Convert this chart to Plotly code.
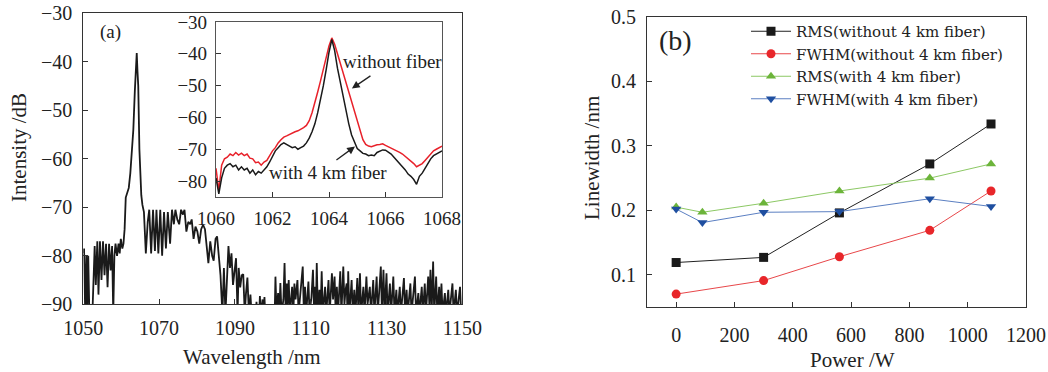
import plotly.graph_objects as go

# ---------------- Panel (a): main spectrum ----------------
WL_MAIN = [1050.0, 1050.2, 1050.5, 1050.8, 1051.0, 1051.3, 1051.6, 1052.0, 1052.4, 1052.7,
           1053.0, 1053.3, 1053.7, 1054.0, 1054.4, 1054.8, 1055.2, 1055.6, 1056.0, 1056.4,
           1056.8, 1057.2, 1057.6, 1057.9, 1058.2, 1058.5, 1058.9, 1059.3, 1059.6, 1059.9,
           1060.3, 1060.6, 1060.9, 1061.2, 1061.6, 1062.0, 1062.4, 1062.8, 1063.2, 1063.6,
           1063.9, 1064.1, 1064.3, 1064.5, 1064.8, 1065.0, 1065.3, 1065.6, 1066.0, 1066.5,
           1067.0, 1067.4, 1067.9, 1068.4, 1068.9, 1069.3, 1069.8, 1070.3, 1070.8, 1071.3,
           1071.8, 1072.3, 1072.9, 1073.4, 1073.9, 1074.3, 1074.8, 1075.3, 1075.8, 1076.3,
           1076.7, 1077.2, 1077.7, 1078.2, 1078.6, 1079.1, 1079.6, 1080.1, 1080.6, 1081.1,
           1081.6, 1082.1, 1082.6, 1083.0, 1083.5, 1084.0, 1084.4, 1084.9, 1085.3, 1085.8,
           1086.2, 1086.7, 1087.1, 1087.5, 1087.9, 1088.3, 1088.7, 1089.1, 1089.5, 1089.9,
           1090.3, 1090.7, 1091.0, 1091.4, 1091.8, 1092.2, 1092.6, 1092.9, 1093.3, 1093.7,
           1094.1, 1094.4, 1095.5, 1095.7, 1095.9, 1096.4, 1096.6, 1096.8, 1097.3, 1097.5,
           1097.8, 1098.0, 1100.5,
           1100.7, 1101.0, 1101.4, 1101.7, 1102.0, 1102.3, 1102.8, 1103.1, 1103.4, 1103.7,
           1103.9, 1104.2, 1104.5, 1105.1, 1105.4, 1105.7, 1106.0, 1106.5, 1106.8, 1107.3,
           1107.9, 1108.2, 1108.5, 1108.8, 1109.4, 1109.7, 1110.2, 1110.6, 1110.9, 1111.2,
           1111.4, 1111.6, 1111.9, 1112.3, 1112.6, 1112.9, 1113.2, 1113.8, 1114.1, 1114.7,
           1115.0, 1115.6, 1115.9, 1116.3, 1116.6, 1116.9, 1117.2, 1117.8, 1118.1, 1118.6,
           1118.9, 1119.2, 1119.5, 1119.7, 1119.9, 1120.2, 1120.8, 1121.1, 1121.5, 1121.8,
           1122.3, 1122.6, 1123.0, 1123.3, 1123.9, 1124.2, 1124.7, 1125.0, 1125.6, 1125.9,
           1126.5, 1126.8, 1127.4, 1127.7, 1128.1, 1128.5, 1128.8, 1129.2, 1129.5, 1130.0,
           1130.3, 1130.9, 1131.2, 1131.8, 1132.1, 1132.6, 1132.9, 1133.5, 1133.8, 1134.6,
           1134.9, 1135.3, 1135.6, 1136.3, 1136.6, 1137.5, 1137.8, 1138.4, 1138.7, 1139.3,
           1139.6, 1140.1, 1140.4, 1141.0, 1141.3, 1141.6, 1141.9, 1142.3, 1142.6, 1143.1,
           1143.4, 1143.9, 1144.2, 1144.5, 1144.8, 1145.4, 1145.7, 1146.3, 1146.6, 1147.4,
           1147.7, 1148.3, 1148.6, 1149.4, 1149.7, 1150.0]
DB_MAIN = [-79.5, -78.5, -92, -80, -92, -80, -92, -90, -92, -84,
           -78, -86, -77, -88, -77, -85, -77, -84, -77.5, -86.5,
           -77.5, -83, -78, -92, -80, -77.5, -80, -77.5, -79.5, -76.5,
           -78.5, -77.5, -74.5, -68, -67, -66, -63, -58, -54, -46,
           -40, -38.2, -42, -45, -58, -64, -67.5, -69.5, -71, -79.5,
           -73, -70.5, -79.5, -70.5, -79, -70.5, -79.5, -70.5, -80, -71,
           -78.5, -71, -77.5, -70.5, -73.5, -70.5, -72.5, -73.5, -70.5, -71.5,
           -70.5, -75, -73, -73.5, -72.5, -76.5, -74, -75, -77.5, -74.5,
           -73.6, -74.5, -78, -81.5, -77, -80, -81, -76.5, -76, -80.5,
           -84, -92, -82.5, -92, -83, -78, -82.5, -79.5, -86, -83,
           -80.5, -92, -82.5, -86.5, -84, -83.8, -92, -88, -84.5, -92,
           -88, -92, -92, -89.5, -92, -92, -88.3, -92, -89, -92,
           -88.5, -92, -92,
           -84.3, -92, -87.7, -92, -85.6, -92, -89, -81.5, -92, -85.7,
           -90, -85, -92, -86.4, -92, -85.7, -89, -85, -92, -88,
           -82.2, -92, -86.4, -92, -85.3, -92, -88.5, -82.9, -92, -86.4,
           -90, -81.5, -92, -87, -92, -83.2, -92, -86.4, -92, -85,
           -92, -83.6, -89, -84.3, -92, -86.4, -92, -83.2, -92, -82.2,
           -90, -87, -85.7, -92, -83.2, -92, -85, -92, -87, -92,
           -84.6, -92, -83.6, -92, -86.4, -92, -84.3, -90, -86.4, -92,
           -85, -92, -84.3, -92, -88, -82.2, -92, -82.9, -92, -83.6,
           -92, -85.7, -92, -84.3, -92, -87, -92, -86.4, -92, -84.6,
           -92, -87, -92, -85.7, -92, -84.3, -92, -87.7, -92, -86.4,
           -92, -85.7, -92, -84.3, -90, -82.9, -92, -81.2, -92, -84.3,
           -92, -86.4, -92, -85.7, -92, -87.7, -92, -87, -92, -85.7,
           -92, -87, -92, -86.4, -92, -90]

# ---------------- Panel (a): inset ----------------
WL_INSET = [1060.0, 1060.1, 1060.2, 1060.3, 1060.4, 1060.5, 1060.6, 1060.7, 1060.8, 1060.9,
            1061.0, 1061.1, 1061.2, 1061.3, 1061.4, 1061.5, 1061.6, 1061.7, 1061.8, 1061.9,
            1062.0, 1062.1, 1062.2, 1062.3, 1062.4, 1062.5, 1062.6, 1062.7, 1062.8, 1062.9,
            1063.0, 1063.1, 1063.2, 1063.3, 1063.4, 1063.5, 1063.6, 1063.7, 1063.8, 1063.9,
            1064.0, 1064.1, 1064.2, 1064.3, 1064.4, 1064.5, 1064.6, 1064.7, 1064.8, 1064.9,
            1065.0, 1065.1, 1065.2, 1065.3, 1065.4, 1065.5, 1065.6, 1065.7, 1065.8, 1065.9,
            1066.0, 1066.1, 1066.2, 1066.3, 1066.4, 1066.5, 1066.6, 1066.7, 1066.8, 1066.9,
            1067.0, 1067.1, 1067.2, 1067.3, 1067.4, 1067.5, 1067.6, 1067.7, 1067.8, 1067.9,
            1068.0]
DB_WITH_FIBER = [-79, -84, -79, -76, -75, -74.5, -75.5, -75, -76.5, -75.5,
                 -76.5, -76, -77.5, -76.5, -78, -77, -77.5, -76.5, -75.5, -74,
                 -72, -70.5, -69.5, -68.5, -68, -68.5, -68.8, -69.5, -69.2, -70,
                 -69.5, -69, -68, -66.5, -64.5, -62, -58.5, -54.5, -50, -45,
                 -39.5, -35.5, -39, -44.5, -49, -53.5, -58, -62, -65.5, -68,
                 -69.8, -70.5, -71.3, -71.5, -72, -71.8, -72, -71, -70.5, -70.2,
                 -70.3, -70.8, -71.5, -72.5, -73.5, -74.3, -75.5, -76.5, -77.8, -78.5,
                 -79.5, -81, -78.5, -77.5, -76, -74.5, -73, -72, -71.5, -71,
                 -70.5]
DB_WITHOUT_FIBER = [-76, -83, -75, -73, -72.5, -71.5, -72, -71, -71.8, -71.2,
                    -72, -71.5, -72.8, -73, -74.2, -74, -75, -74, -73.5, -72,
                    -70.5, -69.5, -68, -67, -66.2, -65.8, -65.3, -65, -64.5, -64.2,
                    -63.8, -63.2, -62.5, -61, -58.5, -55.5, -52, -48.5, -45, -41,
                    -37.5, -35, -37, -40, -43, -46, -49, -52, -55, -58.5,
                    -61.5, -64.5, -67, -68.5, -69, -69.2, -68.8, -68.6, -68.5, -68.3,
                    -68.8, -69.2, -69.6, -70.2, -70.6, -71, -71.5, -72.2, -73, -73.8,
                    -74.5, -75.5, -75, -74.5, -73.5, -72.5, -71.5, -70.5, -70, -69.5,
                    -69]

# ---------------- Panel (b) ----------------
POWER_A = [0, 300, 560, 870, 1080]
RMS_WITHOUT = [0.119, 0.127, 0.196, 0.272, 0.334]
FWHM_WITHOUT = [0.070, 0.091, 0.128, 0.169, 0.230]
POWER_B = [0, 90, 300, 560, 870, 1080]
RMS_WITH = [0.205, 0.197, 0.211, 0.230, 0.250, 0.272]
FWHM_WITH = [0.202, 0.181, 0.197, 0.198, 0.218, 0.206]
LEGEND_NAMES = ["RMS(without 4 km fiber)", "FWHM(without 4 km fiber)",
                "RMS(with 4 km fiber)", "FWHM(with 4 km fiber)"]

FONT = "Liberation Serif"
LEGEND_FONT = "DejaVu Serif"
AX = "#333333"
W, H = 1048, 372


def px(x):
    return x / W


def py(y):
    return 1 - y / H


fig = go.Figure()

fig.add_trace(go.Scatter(x=WL_MAIN, y=DB_MAIN, mode="lines",
                         line=dict(color="#1a1a1a", width=1.8),
                         xaxis="x", yaxis="y", showlegend=False))

fig.add_trace(go.Scatter(x=WL_INSET, y=DB_WITHOUT_FIBER, mode="lines",
                         line=dict(color="#e8212a", width=1.5),
                         xaxis="x2", yaxis="y2", showlegend=False))
fig.add_trace(go.Scatter(x=WL_INSET, y=DB_WITH_FIBER, mode="lines",
                         line=dict(color="#1a1a1a", width=1.5),
                         xaxis="x2", yaxis="y2", showlegend=False))

series_b = [
    (POWER_A, RMS_WITHOUT, "#222222", "#1a1a1a", "square"),
    (POWER_A, FWHM_WITHOUT, "#e8474a", "#e8262a", "circle"),
    (POWER_B, RMS_WITH, "#8cc864", "#6cb43a", "triangle-up"),
    (POWER_B, FWHM_WITH, "#5b7fc2", "#1f4fa0", "triangle-down"),
]
for (xs, ys, lc, mc, sym), name in zip(series_b, LEGEND_NAMES):
    fig.add_trace(go.Scatter(x=xs, y=ys, mode="lines+markers", name=name,
                             line=dict(color=lc, width=1),
                             marker=dict(color=mc, symbol=sym, size=9),
                             xaxis="x3", yaxis="y3"))

axis_common = dict(showline=True, linecolor=AX, linewidth=1.2, mirror=True,
                   ticks="inside", ticklen=5, tickwidth=1, tickcolor=AX,
                   showgrid=False, zeroline=False, automargin=False,
                   ticklabeloverflow="allow",
                   tickfont=dict(family=FONT, size=20, color="#222"))
inset_common = {**axis_common, "tickfont": dict(family=FONT, size=19, color="#222"),
                "linecolor": "#555"}

fig.update_layout(
    width=W, height=H,
    margin=dict(l=0, r=0, t=0, b=0, autoexpand=False),
    paper_bgcolor="white", plot_bgcolor="white",
    font=dict(family=FONT, color="#222"),
    xaxis=dict(domain=[px(83.3), px(462.3)], range=[1050, 1150],
               tickvals=[1050, 1070, 1090, 1110, 1130, 1150], anchor="y",
               ticklabelstandoff=6, **axis_common),
    yaxis=dict(domain=[py(304.3), py(13.3)], range=[-90, -30], dtick=10,
               anchor="x", ticklabelstandoff=6, **axis_common),
    xaxis2=dict(domain=[px(216), px(442)], range=[1060, 1068], dtick=2,
                anchor="y2", ticklabelstandoff=4, **inset_common),
    yaxis2=dict(domain=[py(197), py(22)], range=[-85, -30], dtick=10,
                anchor="x2", ticklabelstandoff=4, **inset_common),
    xaxis3=dict(domain=[px(647), px(1026)], range=[-100, 1200], dtick=200,
                anchor="y3", ticklabelstandoff=10, **axis_common),
    yaxis3=dict(domain=[py(307), py(17)], range=[0.05, 0.5], dtick=0.1,
                tickformat=".1f", anchor="x3", ticklabelstandoff=6, **axis_common),
    legend=dict(x=px(746), y=py(15), xanchor="left", yanchor="top",
                bgcolor="rgba(0,0,0,0)",
                font=dict(family=LEGEND_FONT, size=15, color="#222"),
                tracegroupgap=0, itemwidth=40),
    showlegend=True,
)

ann_base = dict(xanchor="center", yanchor="middle", showarrow=False)
ann = [
    dict(text="Wavelength /nm", x=px(252), y=py(357), xref="paper", yref="paper",
         font=dict(size=21), **ann_base),
    dict(text="Intensity /dB", x=px(19), y=py(148), xref="paper", yref="paper",
         textangle=-90, font=dict(size=21), **ann_base),
    dict(text="Power /W", x=px(852), y=py(360), xref="paper", yref="paper",
         font=dict(size=21), **ann_base),
    dict(text="Linewidth /nm", x=px(592), y=py(158), xref="paper", yref="paper",
         textangle=-90, font=dict(size=21), **ann_base),
    dict(text="(a)", x=px(110), y=py(32), xref="paper", yref="paper",
         font=dict(size=19), **ann_base),
    dict(text="(b)", x=px(675), y=py(40), xref="paper", yref="paper",
         font=dict(size=28), **ann_base),
    dict(text="without fiber", x=1066.25, y=-42.5, xref="x2", yref="y2",
         font=dict(size=19), **ann_base),
    dict(text="with 4 km fiber", x=1063.95, y=-77.2, xref="x2", yref="y2",
         font=dict(size=19), **ann_base),
    dict(text="", x=1064.81, y=-50.9, ax=1065.52, ay=-46.6, xref="x2", yref="y2",
         axref="x2", ayref="y2", showarrow=True, arrowhead=2, arrowsize=1.2,
         arrowwidth=1.3, arrowcolor="#222"),
    dict(text="", x=1064.92, y=-69.1, ax=1064.21, ay=-73.75, xref="x2", yref="y2",
         axref="x2", ayref="y2", showarrow=True, arrowhead=2, arrowsize=1.2,
         arrowwidth=1.3, arrowcolor="#222"),
]
fig.update_layout(annotations=ann)

# the page's default 8px body margin would shift the fixed-size figure
fig.write_html("out.html", config={"displayModeBar": False},
               post_script="document.body.style.margin='0px';")
